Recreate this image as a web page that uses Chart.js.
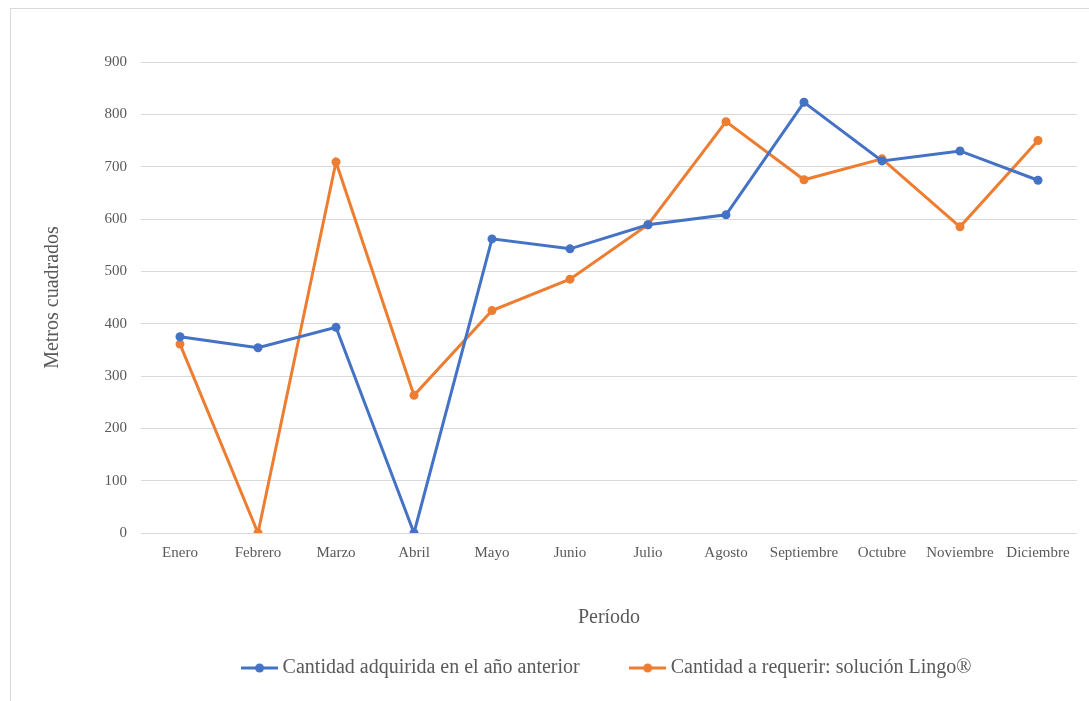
<!DOCTYPE html>
<html>
<head>
<meta charset="utf-8">
<script src="https://cdn.jsdelivr.net/npm/chart.js@4"></script>
<style>
  html, body { margin: 0; padding: 0; background: #fff; }
  .frame { position: absolute; left: 10px; top: 8px; width: 1100px; height: 720px; border: 1px solid #d9d9d9; box-sizing: border-box; }
  .wrap { position: absolute; left: 0; top: 0; width: 1089px; height: 701px; }
</style>
</head>
<body>
<div class="frame"></div>
<div class="wrap"><canvas id="chart"></canvas></div>
<script>
// Datos
const meses = ['Enero', 'Febrero', 'Marzo', 'Abril', 'Mayo', 'Junio', 'Julio', 'Agosto', 'Septiembre', 'Octubre', 'Noviembre', 'Diciembre'];
const anterior = [375, 354, 393, 0, 562, 543, 589, 608, 823, 711, 730, 674];
const lingo = [361, 0, 709, 263, 425, 485, 589, 786, 675, 715, 585, 750];
const nombres = ['Cantidad adquirida en el año anterior', 'Cantidad a requerir: solución Lingo®'];
const colores = ['#4472c4', '#ed7d31'];

const FONT = "'Liberation Serif', 'Times New Roman', serif";
const GRIS = '#595959';

// marcador de leyenda: línea con punto
function marker(color) {
  const c = document.createElement('canvas');
  c.width = 37; c.height = 10;
  const g = c.getContext('2d');
  g.strokeStyle = color; g.lineWidth = 3;
  g.beginPath(); g.moveTo(0, 5); g.lineTo(37, 5); g.stroke();
  g.fillStyle = color;
  g.beginPath(); g.arc(18.5, 5, 4.5, 0, Math.PI * 2); g.fill();
  return c;
}
const marcadores = colores.map(marker);

const serie = (data, i) => ({
  label: nombres[i],
  data: data,
  borderColor: colores[i],
  backgroundColor: colores[i],
  borderWidth: 3,
  pointRadius: 4.5,
  pointBorderWidth: 0,
  pointBackgroundColor: colores[i],
  pointStyle: 'circle',
  tension: 0
});

new Chart(document.getElementById('chart'), {
  type: 'line',
  data: {
    labels: meses,
    datasets: [serie(anterior, 0), serie(lingo, 1)]
  },
  options: {
    responsive: true,
    maintainAspectRatio: false,
    animation: false,
    layout: { padding: { top: 62, left: 41, right: 12, bottom: 13 } },
    plugins: {
      tooltip: { enabled: false },
      legend: {
        position: 'bottom',
        fullSize: false,
        labels: {
          usePointStyle: true,
          pointStyleWidth: 26,
          padding: 55,
          color: GRIS,
          font: { family: FONT, size: 20 },
          generateLabels: chart =>
            Chart.defaults.plugins.legend.labels.generateLabels(chart).map((l, i) => ({ ...l, pointStyle: marcadores[i] }))
        }
      }
    },
    scales: {
      x: {
        offset: true,
        grid: { display: false, offset: true },
        border: { display: false },
        ticks: { color: GRIS, font: { family: FONT, size: 15 }, padding: 3, maxRotation: 0, autoSkip: false },
        title: { display: true, text: 'Período', color: GRIS, font: { family: FONT, size: 20 }, padding: { top: 0, bottom: -27 } },
        afterFit: s => { s.height = 70; }
      },
      y: {
        min: 0, max: 900,
        grid: { color: '#d9d9d9', lineWidth: 1, drawTicks: false },
        border: { display: false },
        ticks: { stepSize: 100, color: GRIS, font: { family: FONT, size: 15 }, padding: 14 },
        title: { display: true, text: 'Metros cuadrados', color: GRIS, font: { family: FONT, size: 20 }, padding: 0 },
        afterFit: s => { s.width = 100; }
      }
    }
  }
});
</script>
</body>
</html>
